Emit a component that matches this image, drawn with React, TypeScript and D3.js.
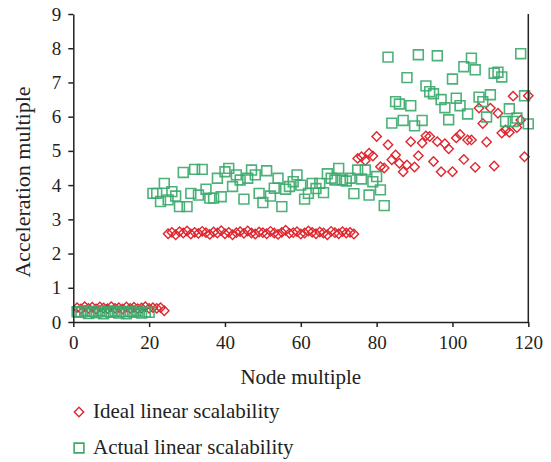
import React, { useRef, useEffect } from 'react';
import * as d3 from 'd3';

// node multiple is the 1-based index into each series
const idealValues = [
  0.42, 0.38, 0.45, 0.40, 0.43, 0.38, 0.44, 0.41, 0.39, 0.45, 0.40, 0.42, 0.38, 0.44, 0.40, 0.43, 0.39, 0.41, 0.45, 0.40,
  0.42, 0.40, 0.42, 0.33,
  2.58, 2.62, 2.55, 2.64, 2.60, 2.66, 2.57, 2.62, 2.59, 2.65, 2.61, 2.56, 2.63, 2.60, 2.67, 2.58, 2.62, 2.55, 2.61, 2.64,
  2.59, 2.66, 2.60, 2.57, 2.63, 2.61, 2.58, 2.65, 2.60, 2.56, 2.62, 2.68, 2.59, 2.61, 2.64, 2.57, 2.60, 2.66, 2.62, 2.58,
  2.63, 2.60, 2.55, 2.65, 2.61, 2.58, 2.64, 2.60, 2.62, 2.57,
  4.78, 4.83, 4.72, 4.93, 4.85, 5.42, 4.54, 4.50, 5.18, 4.74, 4.88, 4.64, 4.39, 4.59, 5.27, 4.53, 4.86, 5.23, 5.44, 5.42,
  4.69, 5.27, 4.39, 5.21, 5.06, 4.39, 5.38, 5.48, 4.75, 5.32, 5.32, 4.52, 6.25, 5.80, 5.26, 6.25, 4.56, 6.10, 5.52, 5.61,
  5.54, 6.60, 5.68, 5.90, 4.83, 6.61,
];

const actualValues = [
  0.30, 0.28, 0.33, 0.25, 0.31, 0.27, 0.33, 0.24, 0.30, 0.28, 0.32, 0.26, 0.30, 0.24, 0.31, 0.28, 0.33, 0.26, 0.29, 0.28,
  3.76, 3.76, 3.52, 4.05, 3.57, 3.81, 3.68, 3.37, 4.37, 3.37, 3.76, 4.46, 3.71, 4.46, 3.88, 3.62, 3.62, 4.20, 3.66, 4.39,
  4.49, 3.96, 4.30, 4.15, 3.59, 4.20, 4.44, 4.30, 3.76, 3.49, 4.42, 3.68, 3.91, 4.20, 3.37, 3.88, 3.96, 4.10, 4.30, 4.00,
  3.59, 3.76, 4.05, 3.90, 4.05, 3.78, 4.33, 4.20, 4.15, 4.49, 4.15, 4.12, 4.20, 3.75, 4.44, 4.18, 4.44, 3.71, 4.10, 4.25,
  3.86, 3.40,
  7.74, 5.81, 6.44, 6.37, 5.89, 7.14, 6.32, 5.73, 7.81, 5.89, 6.90, 6.73, 6.67, 7.78, 6.50, 6.26, 5.91, 7.10, 6.54, 6.32,
  7.46, 6.08, 7.71, 7.37, 6.57, 6.44, 5.99, 6.64, 7.27, 7.30, 7.16, 5.86, 6.23, 5.86, 5.96, 7.84, 6.61, 5.79,
];

const xTicks = [0, 20, 40, 60, 80, 100, 120];
const yTicks = [0, 1, 2, 3, 4, 5, 6, 7, 8, 9];
const legendLabels = ['Ideal linear scalability', 'Actual linear scalability'];

const RED = '#e0262f';
const GREEN = '#3aa86b';
const FONT = '"Liberation Serif", "DejaVu Serif", serif';

const App = () => {
  const svgRef = useRef<SVGSVGElement>(null);
  const width = 551;
  const height = 462;

  useEffect(() => {
    if (!svgRef.current) return;
    const svg = d3.select(svgRef.current);
    svg.selectAll('*').remove();

    const xScale = d3.scaleLinear().domain([0, 120]).range([73.3, 528.3]);
    const yScale = d3.scaleLinear().domain([0, 9]).range([322, 14]);

    const diamond = d3.symbol().type(d3.symbolSquare).size(44);
    const square = d3.symbol().type(d3.symbolSquare).size(96);

    // ideal series (diamonds)
    svg.append('g')
      .selectAll('path')
      .data(idealValues)
      .enter()
      .append('path')
      .attr('d', diamond)
      .attr('transform', (d, i) => `translate(${xScale(i + 1)},${yScale(d)}) rotate(45)`)
      .attr('fill', 'none')
      .attr('stroke', RED)
      .attr('stroke-width', 1.4);

    // actual series (squares)
    svg.append('g')
      .selectAll('path')
      .data(actualValues)
      .enter()
      .append('path')
      .attr('d', square)
      .attr('transform', (d, i) => `translate(${xScale(i + 1)},${yScale(d)})`)
      .attr('fill', 'none')
      .attr('stroke', GREEN)
      .attr('stroke-opacity', 0.9)
      .attr('stroke-width', 1.6);

    // axes
    const xAxis = svg.append('g')
      .attr('transform', `translate(0,${yScale(0)})`)
      .call(d3.axisBottom(xScale).tickValues(xTicks).tickSize(5).tickSizeOuter(0).tickPadding(9));
    const yAxis = svg.append('g')
      .attr('transform', `translate(${xScale(0)},0)`)
      .call(d3.axisLeft(yScale).tickValues(yTicks).tickSize(5).tickSizeOuter(0).tickPadding(7));

    [xAxis, yAxis].forEach(ax => {
      ax.select('.domain').attr('stroke', '#222').attr('stroke-width', 1.5);
      ax.selectAll('.tick line').attr('stroke', '#222').attr('stroke-width', 1.5);
      ax.selectAll('.tick text')
        .attr('fill', '#222')
        .style('font-family', FONT)
        .style('font-size', '19px');
    });

    // right border
    svg.append('line')
      .attr('x1', xScale(120)).attr('x2', xScale(120))
      .attr('y1', yScale(9)).attr('y2', yScale(0))
      .attr('stroke', '#222')
      .attr('stroke-width', 1.5);

    // axis titles
    svg.append('text')
      .attr('x', (xScale(0) + xScale(120)) / 2)
      .attr('y', 384)
      .attr('text-anchor', 'middle')
      .attr('fill', '#222')
      .style('font-family', FONT)
      .style('font-size', '21px')
      .text('Node multiple');

    svg.append('text')
      .attr('transform', 'rotate(-90)')
      .attr('x', -182)
      .attr('y', 30)
      .attr('text-anchor', 'middle')
      .attr('fill', '#222')
      .style('font-family', FONT)
      .style('font-size', '22px')
      .text('Acceleration multiple');

    // legend
    const legend = svg.append('g');
    legend.append('path')
      .attr('d', diamond)
      .attr('transform', 'translate(79,412) rotate(45)')
      .attr('fill', 'none')
      .attr('stroke', RED)
      .attr('stroke-width', 1.4);
    legend.append('path')
      .attr('d', square)
      .attr('transform', 'translate(79,448)')
      .attr('fill', 'none')
      .attr('stroke', GREEN)
      .attr('stroke-width', 1.6);
    legend.selectAll('text')
      .data(legendLabels)
      .enter()
      .append('text')
      .attr('x', 93)
      .attr('y', (d, i) => 418 + i * 36)
      .attr('fill', '#222')
      .style('font-family', FONT)
      .style('font-size', '21px')
      .text(d => d);
  }, []);

  return (
    <svg
      ref={svgRef}
      width={width}
      height={height}
      style={{ position: 'absolute', left: 0, top: 0, background: '#fff' }}
    />
  );
};

export default App;
